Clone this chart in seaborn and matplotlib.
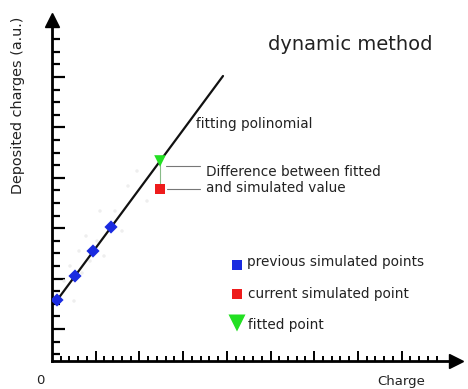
import numpy as np
import pandas as pd
import matplotlib
matplotlib.use("Agg")
import matplotlib.pyplot as plt
import seaborn as sns

# ---- data (schematic units) ----
prev_x = [5, 23, 41, 59]
prev_y = [61, 85, 110, 134]
fit_x = [3, 171]
fit_y = [58, 285]
fitted_x = [108]
fitted_y = [200]
current_x = [108]
current_y = [172]
cloud_x = [12, 18, 22, 27, 30, 34, 38, 45, 48, 52, 63, 70, 76, 85, 95]
cloud_y = [80, 95, 60, 110, 88, 125, 100, 120, 150, 105, 150, 130, 175, 190, 160]
legend_labels = ["previous simulated points", "current simulated point", "fitted point"]

sns.set_style("white")
plt.rcParams['font.family'] = ['DejaVu Sans']

W, H = 468, 389
fig = plt.figure(figsize=(W / 100, H / 100), dpi=100)
L, R, T, B = 52, 456, 20, 361
ax = fig.add_axes([L / W, (H - B) / H, (R - L) / W, (B - T) / H])
ax.set_xlim(0, R - L)
ax.set_ylim(0, B - T)

for s in ["top", "right"]:
    ax.spines[s].set_visible(False)
for s in ["left", "bottom"]:
    ax.spines[s].set_linewidth(2)
    ax.spines[s].set_color("black")

# ticks
ax.set_yticks([32 + 50.4 * k for k in range(6)])
ax.set_yticks([6.8 + 12.6 * k for k in range(26)], minor=True)
ax.set_xticks([43.7 * k for k in range(1, 9)])
ax.set_xticks([8.74 * k for k in range(1, 45)], minor=True)
ax.set_xticklabels([])
ax.set_yticklabels([])
ax.tick_params(axis="y", which="major", direction="in", length=9, width=1.6, left=True, color="black")
ax.tick_params(axis="y", which="minor", direction="in", length=5.5, width=1.6, left=True, color="black")
ax.tick_params(axis="x", which="major", direction="in", length=7, width=1.4, bottom=True, color="black")
ax.tick_params(axis="x", which="minor", direction="in", length=3.5, width=1.4, bottom=True, color="black")

# arrow heads
ax.plot(1, 0, marker=">", color="black", markersize=10, transform=ax.transAxes, clip_on=False)
ax.plot(0, 1, marker="^", color="black", markersize=10, transform=ax.transAxes, clip_on=False)

# faint cloud
sns.scatterplot(x=cloud_x, y=cloud_y, ax=ax, color="#eeeeee", s=6, edgecolor="none", legend=False)

# fitting line
sns.lineplot(x=fit_x, y=fit_y, ax=ax, color="#111111", linewidth=1.6, legend=False)

# previous points
sns.scatterplot(x=prev_x, y=prev_y, ax=ax, color="#1a2be0", marker="D", s=45, edgecolor="none", legend=False, zorder=5)

# difference connector
ax.plot([fitted_x[0], current_x[0]], [fitted_y[0], current_y[0]], color="#88bb88", lw=0.8, zorder=3)
ax.plot([fitted_x[0] + 6, 148], [fitted_y[0] - 5, fitted_y[0] - 5], color="#777777", lw=0.8)
ax.plot([current_x[0] + 7, 148], [current_y[0], current_y[0]], color="#777777", lw=0.8)

sns.scatterplot(x=current_x, y=current_y, ax=ax, color="#ee1c1c", marker="s", s=55, edgecolor="none", legend=False, zorder=5)
sns.scatterplot(x=fitted_x, y=fitted_y, ax=ax, color="#22e022", marker="v", s=70, edgecolor="none", legend=False, zorder=6)

# texts
fs = 9.8
tc = "#222222"
ax.text(298, 317, "dynamic method", fontsize=14, ha="center", va="center", color=tc)
ax.text(144, 237, "fitting polinomial", fontsize=fs, ha="left", va="center", color=tc)
ax.text(154, 189, "Difference between fitted", fontsize=fs, ha="left", va="center", color=tc)
ax.text(154, 173, "and simulated value", fontsize=fs, ha="left", va="center", color=tc)

# pseudo legend
lx = [185, 185, 185]
ly = [96, 67, 38]
ax.scatter([lx[0]], [ly[0]], color="#1a2be0", marker="s", s=50, edgecolor="none", clip_on=False)
ax.scatter([lx[1]], [ly[1]], color="#ee1c1c", marker="s", s=50, edgecolor="none", clip_on=False)
ax.scatter([lx[2]], [ly[2]], color="#22e022", marker="v", s=150, edgecolor="none", clip_on=False)
ax.text(195, 99, legend_labels[0], fontsize=fs, ha="left", va="center", color=tc)
ax.text(196, 67, legend_labels[1], fontsize=fs, ha="left", va="center", color=tc)
ax.text(196, 36, legend_labels[2], fontsize=fs, ha="left", va="center", color=tc)

ax.text(-12, -20, "0", fontsize=9.5, ha="center", va="center", clip_on=False, color=tc)
ax.text(349, -20, "Charge", fontsize=9.5, ha="center", va="center", clip_on=False, color=tc)
ax.text(-34, 256, "Deposited charges (a.u.)", fontsize=10.4, ha="center", va="center", rotation=90, clip_on=False, color=tc)

fig.savefig("out.png", dpi=100)
